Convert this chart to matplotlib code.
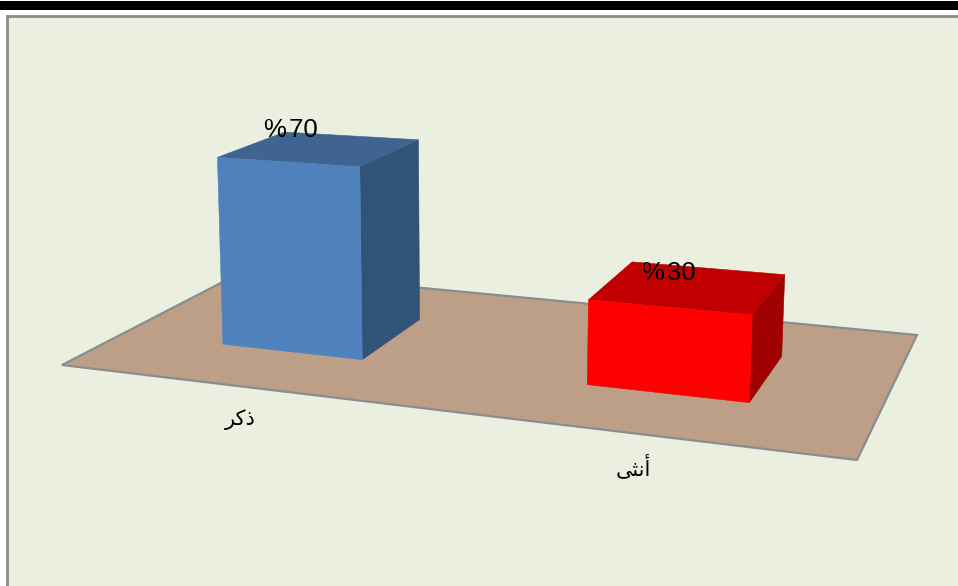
import numpy as np
import matplotlib
matplotlib.use("Agg")
import matplotlib.pyplot as plt
from matplotlib.patches import Polygon, Rectangle

# ---- data ----
categories_logical = ["ذكر", "أنثى"]
# visual-order, shaped forms (matplotlib has no Arabic shaping / bidi)
category_labels = ["\uFEAE\uFEDB\uFEAB", "\uFEF0\uFE9C\uFEE7\uFE83"]
values = [70, 30]
value_labels = ["%\u200a70", "%\u200a30"]

# ---- style ----
BG = "#EAEFDF"
FLOOR = "#BC9F86"
FLOOR_EDGE = "#8A8D90"
FRAME = "#8C8C8C"
front_colors = ["#4F81BD", "#FF0000"]
top_colors = ["#3F6491", "#C00000"]
side_colors = ["#325378", "#A00000"]
value_label_pos = [(290.5, 130), (668.5, 273)]
cat_label_pos = [(240, 420), (633, 467)]

# ---- 3D chart projection: floor homography plus height ----
P00, P10, P11, P01 = (62, 365), (857, 460), (917, 335), (244, 271)


def _homography():
    x0, y0 = P00; x1, y1 = P10; x2, y2 = P11; x3, y3 = P01
    dx1, dy1, dx2, dy2 = x1 - x2, y1 - y2, x3 - x2, y3 - y2
    sx, sy = x0 - x1 + x2 - x3, y0 - y1 + y2 - y3
    det = dx1 * dy2 - dy1 * dx2
    g = (sx * dy2 - sy * dx2) / det
    h = (dx1 * sy - dy1 * sx) / det
    return np.array([[x1 - x0 + g * x1, x3 - x0 + h * x3, x0],
                     [y1 - y0 + g * y1, y3 - y0 + h * y3, y0],
                     [g, h, 1.0]])


H = _homography()
Z_OFFSET = 3.3


def project(u, v, z=None, tilt=0.0):
    """u: category axis (0-1), v: depth (0-1), z: value (None = on floor)."""
    p = H @ np.array([u, v, 1.0])
    x, y = p[0] / p[2], p[1] / p[2]
    if z is None:
        return x, y
    k = (2.59 - 0.45 * (v - 0.3)) * (1 + tilt)
    h = k * (z + Z_OFFSET)
    return x + (x - 470) * 0.00012 * h, y - h


fig = plt.figure(figsize=(9.58, 5.86), dpi=100, facecolor="white")
ax = fig.add_axes([0, 0, 1, 1])
ax.set_xlim(0, 958)
ax.set_ylim(586, 0)
ax.axis("off")

# page furniture
ax.add_patch(Rectangle((0, 1), 958, 9, fc="black", ec="none", zorder=1))
ax.add_patch(Rectangle((7.5, 15.5), 970, 600, fc=BG, ec=FRAME, lw=2, zorder=1))

# floor
floor = [project(0, 0), project(1, 0), project(1, 1), project(0, 1)]
ax.add_patch(Polygon(floor, closed=True, fc=FLOOR, ec=FLOOR_EDGE, lw=1.6,
                     joinstyle="miter", zorder=2))

# bars
n = len(values)
bar_frac = 0.2
v0, v1 = 0.30, 0.69
t = 0.016
for i, val in enumerate(values):
    uc = (i + 0.5) / n
    u0, u1 = uc - bar_frac / n, uc + bar_frac / n
    tl0 = project(u0, v0, val, -t)
    tl1 = project(u0, v1, val, -t)
    tr0 = project(u1, v0, val, t)
    tr1 = project(u1, v1, val, t)
    front = [project(u0, v0), project(u1, v0), tr0, tl0]
    side = [project(u1, v0), project(u1, v1), tr1, tr0]
    top = [tl0, tr0, tr1, tl1]
    for pts, col in ((side, side_colors[i]), (top, top_colors[i]), (front, front_colors[i])):
        ax.add_patch(Polygon(pts, closed=True, fc=col, ec=col, lw=0.4, zorder=3))
    ax.text(*value_label_pos[i], value_labels[i], family=["Liberation Sans", "DejaVu Sans"],
            fontsize=18.5, color="black", ha="center", va="center", zorder=5)
    ax.text(*cat_label_pos[i], category_labels[i], family="DejaVu Sans",
            fontsize=15, color="black", ha="center", va="center", zorder=5)

fig.savefig("out.png", dpi=100, facecolor="white")
